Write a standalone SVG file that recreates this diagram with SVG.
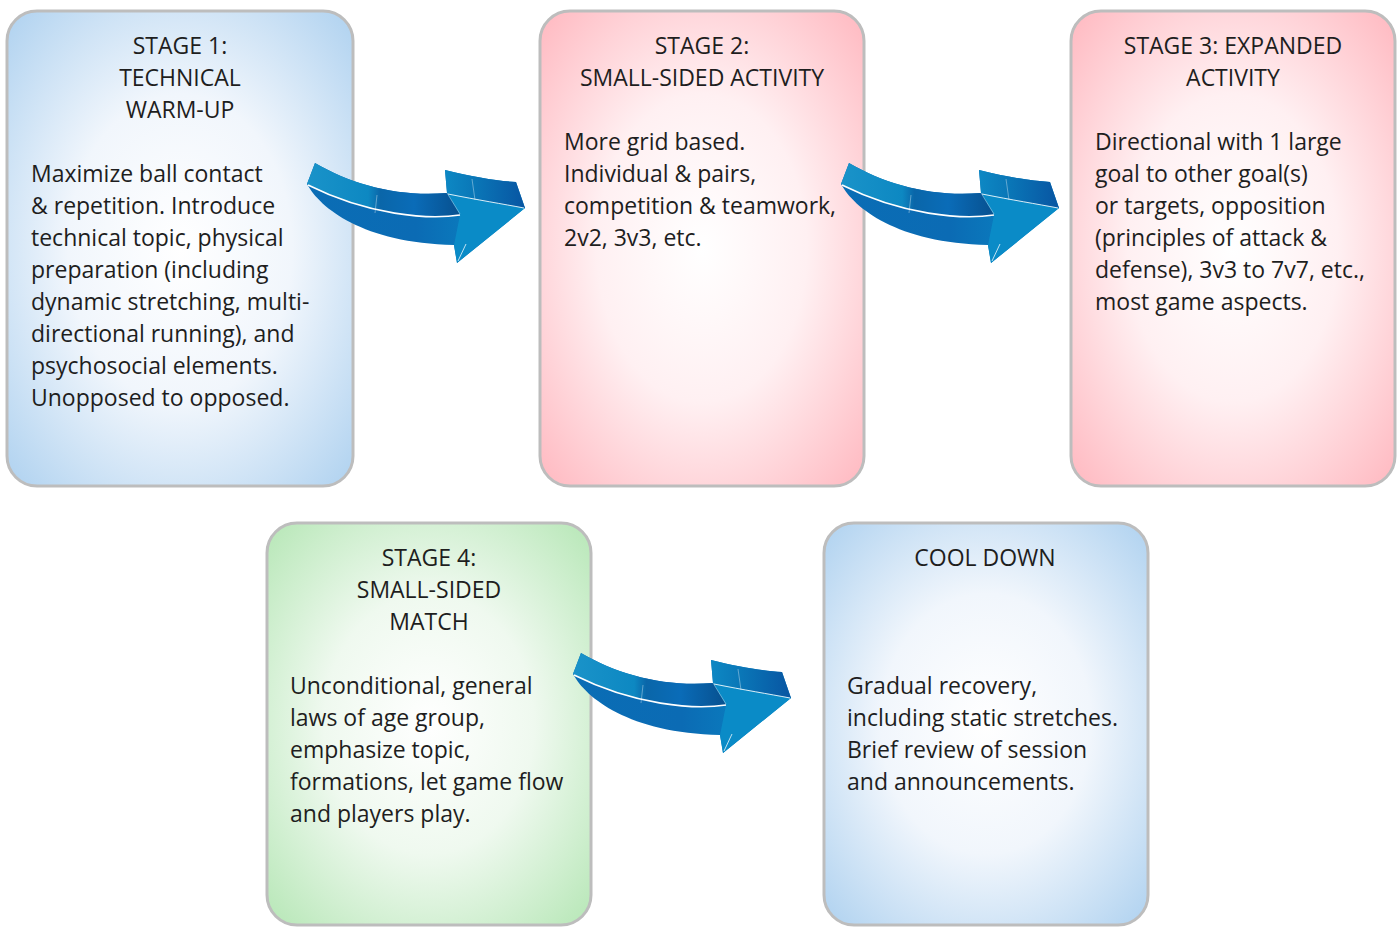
<svg xmlns="http://www.w3.org/2000/svg" width="1397" height="927" viewBox="0 0 1397 927">
  <defs>
    <style>
      .box { stroke: #bdbdbd; stroke-width: 3; }
      .title { font-family: "Open Sans", "Liberation Sans", sans-serif; font-size: 23px; fill: #1e1e1e; text-anchor: middle; }
      .body { font-family: "Open Sans", "Liberation Sans", sans-serif; font-size: 23px; fill: #1e1e1e; }
    </style>
    <radialGradient id="gBlue" cx="50%" cy="50%" r="72%">
      <stop offset="0" stop-color="#ffffff"/>
      <stop offset="0.45" stop-color="#f1f6fc"/>
      <stop offset="1" stop-color="#acd0ef"/>
    </radialGradient>
    <radialGradient id="gPink" cx="50%" cy="50%" r="72%">
      <stop offset="0" stop-color="#ffffff"/>
      <stop offset="0.45" stop-color="#fff0f2"/>
      <stop offset="1" stop-color="#ffb6be"/>
    </radialGradient>
    <radialGradient id="gGreen" cx="50%" cy="50%" r="72%">
      <stop offset="0" stop-color="#ffffff"/>
      <stop offset="0.45" stop-color="#eff9ef"/>
      <stop offset="1" stop-color="#b4e6b4"/>
    </radialGradient>
    <!-- arrow shading -->
    <linearGradient id="aBody" x1="0" y1="0" x2="1" y2="0">
      <stop offset="0" stop-color="#0a6db5"/>
      <stop offset="0.5" stop-color="#0b6bb4"/>
      <stop offset="1" stop-color="#0a8bc7"/>
    </linearGradient>
    <linearGradient id="aBand" x1="0" y1="0" x2="1" y2="0">
      <stop offset="0" stop-color="#1a93c9"/>
      <stop offset="0.4" stop-color="#0d88c2"/>
      <stop offset="0.48" stop-color="#0a66a9"/>
      <stop offset="0.7" stop-color="#0a6cb8"/>
      <stop offset="1" stop-color="#07508f"/>
    </linearGradient>
    <linearGradient id="aHeadBand" x1="0" y1="0" x2="1" y2="0">
      <stop offset="0" stop-color="#0d88c4"/>
      <stop offset="0.35" stop-color="#0a78b8"/>
      <stop offset="1" stop-color="#0855a2"/>
    </linearGradient>
    <g id="curvedArrow">
      <!-- full silhouette -->
      <path fill="url(#aBody)" d="M7,0 C45,22 90,34 139,30 L137,7 C165,14 190,18 208,19 L217,45 L149,100 L146,82 C55,80 12,45 -1,21 Z"/>
      <!-- head face -->
      <path fill="#0a8bc7" d="M139,30 L217,45 L149,100 L146,82 L152,52 Z"/>
      <!-- top face of shaft -->
      <path fill="url(#aBand)" d="M7,0 C45,22 90,34 139,30 L152,52 C120,57 60,52 -1,21 Z"/>
      <!-- top face of head -->
      <path fill="url(#aHeadBand)" d="M137,7 C165,14 190,18 208,19 L217,45 C190,40 165,36 139,30 Z"/>
      <!-- highlights -->
      <path fill="none" stroke="#ffffff" stroke-width="1.6" d="M0,22 C60,52 120,57 152,52"/>
      <path fill="none" stroke="#ffffff" stroke-width="1" stroke-opacity="0.85" d="M140,31 C170,37 195,41 216,45"/>
      <path fill="none" stroke="#ffffff" stroke-width="0.8" stroke-opacity="0.45" d="M69,32 L67,50"/>
      <path fill="none" stroke="#ffffff" stroke-width="0.8" stroke-opacity="0.45" d="M164,16 L167,37"/>
      <path fill="none" stroke="#ffffff" stroke-width="0.8" stroke-opacity="0.45" d="M139,30 L152,51"/>
      <path fill="none" stroke="#ffffff" stroke-width="1" stroke-opacity="0.75" d="M150,98 L158,81"/>
    </g>
  </defs>

  <rect width="1397" height="927" fill="#ffffff"/>

  <g id="stage1">
    <rect class="box" x="7" y="11" width="346" height="475" rx="30" fill="url(#gBlue)"/>
    <text class="title" x="180" y="54">STAGE 1:</text>
    <text class="title" x="180" y="86">TECHNICAL</text>
    <text class="title" x="180" y="118">WARM-UP</text>
    <text class="body" x="31" y="182">Maximize ball contact</text>
    <text class="body" x="31" y="214">&amp; repetition. Introduce</text>
    <text class="body" x="31" y="246">technical topic, physical</text>
    <text class="body" x="31" y="278">preparation (including</text>
    <text class="body" x="31" y="310">dynamic stretching, multi-</text>
    <text class="body" x="31" y="342">directional running), and</text>
    <text class="body" x="31" y="374">psychosocial elements.</text>
    <text class="body" x="31" y="406">Unopposed to opposed.</text>
  </g>

  <g id="stage2">
    <rect class="box" x="540" y="11" width="324" height="475" rx="30" fill="url(#gPink)"/>
    <text class="title" x="702" y="54">STAGE 2:</text>
    <text class="title" x="702" y="86">SMALL-SIDED ACTIVITY</text>
    <text class="body" x="564" y="150">More grid based.</text>
    <text class="body" x="564" y="182">Individual &amp; pairs,</text>
    <text class="body" x="564" y="214">competition &amp; teamwork,</text>
    <text class="body" x="564" y="246">2v2, 3v3, etc.</text>
  </g>

  <g id="stage3">
    <rect class="box" x="1071" y="11" width="324" height="475" rx="30" fill="url(#gPink)"/>
    <text class="title" x="1233" y="54">STAGE 3: EXPANDED</text>
    <text class="title" x="1233" y="86">ACTIVITY</text>
    <text class="body" x="1095" y="150">Directional with 1 large</text>
    <text class="body" x="1095" y="182">goal to other goal(s)</text>
    <text class="body" x="1095" y="214">or targets, opposition</text>
    <text class="body" x="1095" y="246">(principles of attack &amp;</text>
    <text class="body" x="1095" y="278">defense), 3v3 to 7v7, etc.,</text>
    <text class="body" x="1095" y="310">most game aspects.</text>
  </g>

  <g id="stage4">
    <rect class="box" x="267" y="523" width="324" height="402" rx="30" fill="url(#gGreen)"/>
    <text class="title" x="429" y="566">STAGE 4:</text>
    <text class="title" x="429" y="598">SMALL-SIDED</text>
    <text class="title" x="429" y="630">MATCH</text>
    <text class="body" x="290" y="694">Unconditional, general</text>
    <text class="body" x="290" y="726">laws of age group,</text>
    <text class="body" x="290" y="758">emphasize topic,</text>
    <text class="body" x="290" y="790">formations, let game flow</text>
    <text class="body" x="290" y="822">and players play.</text>
  </g>

  <g id="cooldown">
    <rect class="box" x="824" y="523" width="324" height="402" rx="30" fill="url(#gBlue)"/>
    <text class="title" x="985" y="566">COOL DOWN</text>
    <text class="body" x="847" y="694">Gradual recovery,</text>
    <text class="body" x="847" y="726">including static stretches.</text>
    <text class="body" x="847" y="758">Brief review of session</text>
    <text class="body" x="847" y="790">and announcements.</text>
  </g>

  <g id="connectors">
    <use href="#curvedArrow" transform="translate(308,163)"/>
    <use href="#curvedArrow" transform="translate(842,163)"/>
    <use href="#curvedArrow" transform="translate(574,653)"/>
  </g>
</svg>
